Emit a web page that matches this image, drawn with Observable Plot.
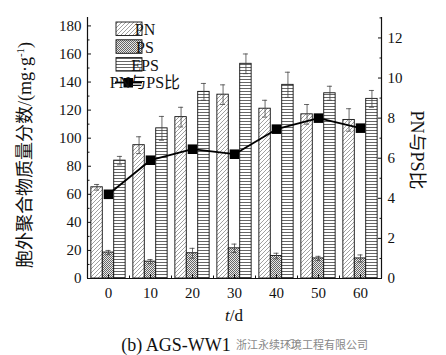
<!DOCTYPE html>
<html>
<head>
<meta charset="utf-8">
<script src="https://cdn.jsdelivr.net/npm/d3@7"></script>
<script src="https://cdn.jsdelivr.net/npm/@observablehq/plot@0.6"></script>
<style>
  html, body { margin: 0; padding: 0; background: #fff; }
  #chart { position: relative; width: 446px; height: 355px; }
  #chart svg text { font-family: "Liberation Serif", "Noto Sans CJK SC", serif; }
</style>
</head>
<body>
<div id="chart"></div>
<script>
// ---- data ----
const days = [0, 10, 20, 30, 40, 50, 60];
const pn = [65, 95, 115, 131, 121, 117, 113];
const pnErr = [2, 6, 7, 7, 6, 7, 8];
const ps = [18.5, 12, 18, 21.5, 16, 14.3, 14.3];
const psErr = [1.5, 1.5, 3.5, 3, 2, 1.5, 2.5];
const eps = [84, 107, 133, 153, 138, 132, 128];
const epsErr = [3, 8.5, 6, 7, 9, 5, 6];
const ratio = [4.2, 5.9, 6.45, 6.2, 7.45, 8.0, 7.5];
const leftTicks = [0, 20, 40, 60, 80, 100, 120, 140, 160, 180];
const rightTicks = [0, 2, 4, 6, 8, 10, 12];
const seriesNames = ["PN", "PS", "EPS"];
const ratioName = "PN与PS比";

const k = 0.07; // right axis value = left axis value * k
const bw = 2.72; // bar width in days
const rows = days.map((d, i) => ({day: d, pn: pn[i], pnErr: pnErr[i], ps: ps[i], psErr: psErr[i], eps: eps[i], epsErr: epsErr[i], ratio: ratio[i]}));

const serif = "'Liberation Serif', 'Noto Sans CJK SC', serif";

function barMarks(key, off, pat) {
  const errKey = key + "Err";
  const cx = d => d.day + off;
  return [
    Plot.rect(rows, {x1: d => cx(d) - bw / 2, x2: d => cx(d) + bw / 2, y1: 0, y2: key, fill: `url(#${pat})`, stroke: "#111", strokeWidth: 0.9}),
    Plot.ruleX(rows, {x: cx, y1: d => d[key] - d[errKey], y2: d => d[key] + d[errKey], stroke: "#444", strokeWidth: 0.8}),
    Plot.ruleY(rows, {y: d => d[key] + d[errKey], x1: d => cx(d) - 0.6, x2: d => cx(d) + 0.6, stroke: "#444", strokeWidth: 0.8}),
    Plot.ruleY(rows, {y: d => d[key] - d[errKey], x1: d => cx(d) - 0.6, x2: d => cx(d) + 0.6, stroke: "#444", strokeWidth: 0.8})
  ];
}

const blank = () => "";
const chart = Plot.plot({
  width: 446,
  height: 355,
  marginLeft: 87,
  marginRight: 65,
  marginTop: 17,
  marginBottom: 77,
  style: {fontFamily: serif, fontSize: "15px", color: "#111", background: "white"},
  x: {domain: [-5, 65], axis: null},
  y: {domain: [0, 186], axis: null},
  marks: [
    ...barMarks("pn", -bw, "pat-pn"),
    ...barMarks("ps", 0, "pat-ps"),
    ...barMarks("eps", bw, "pat-eps"),
    Plot.line(rows, {x: "day", y: d => d.ratio / k, stroke: "black", strokeWidth: 1.8}),
    Plot.dot(rows, {x: "day", y: d => d.ratio / k, symbol: "square", r: 5.4, fill: "black"}),
    // axis lines
    Plot.ruleX([-5, 65], {stroke: "#111", strokeWidth: 1.2}),
    Plot.ruleY([0], {stroke: "#111", strokeWidth: 1.2}),
    // left axis
    Plot.axisY(leftTicks, {anchor: "left", tickSize: 0, tickPadding: 6, label: null, fontSize: 15}),
    Plot.axisY(leftTicks, {anchor: "left", tickSize: -4, tickFormat: blank, label: null}),
    Plot.axisY(d3.range(10, 186, 20), {anchor: "left", tickSize: -2.5, tickFormat: blank, label: null}),
    // right axis
    Plot.axisY(rightTicks.map(v => v / k), {anchor: "right", tickSize: 0, tickPadding: 6, label: null, fontSize: 15, tickFormat: d => Math.round(d * k)}),
    Plot.axisY(rightTicks.map(v => v / k), {anchor: "right", tickSize: -4, tickFormat: blank, label: null}),
    Plot.axisY(d3.range(1, 13.1, 2).map(v => v / k), {anchor: "right", tickSize: -2.5, tickFormat: blank, label: null}),
    // x axis
    Plot.axisX(days, {tickSize: 0, tickPadding: 9, label: null, fontSize: 15}),
    Plot.axisX(days, {tickSize: -4, tickFormat: blank, label: null}),
    Plot.axisX(d3.range(5, 60, 10), {tickSize: -2.5, tickFormat: blank, label: null})
  ]
});

chart.insertAdjacentHTML("afterbegin", `
<defs>
  <pattern id="pat-pn" width="4" height="4" patternUnits="userSpaceOnUse">
    <rect width="4" height="4" fill="white"/>
    <path d="M-1,1 l2,-2 M0,4 l4,-4 M3,5 l2,-2" stroke="#888" stroke-width="0.8"/>
  </pattern>
  <pattern id="pat-ps" width="2" height="2" patternUnits="userSpaceOnUse">
    <rect width="2" height="2" fill="#e8e8e8"/>
    <rect width="1" height="1" fill="#666"/>
    <rect x="1" y="1" width="1" height="1" fill="#666"/>
  </pattern>
  <pattern id="pat-eps" width="4" height="3" patternUnits="userSpaceOnUse">
    <rect width="4" height="3" fill="white"/>
    <path d="M0,1.5 h4" stroke="#555" stroke-width="0.9"/>
  </pattern>
</defs>`);

const svg = d3.select(chart);
svg.style("font-family", serif);
// legend
const lg = svg.append("g").attr("font-size", 16).attr("fill", "#111");
const pats = ["pat-pn", "pat-ps", "pat-eps"];
seriesNames.forEach((name, i) => {
  const y = 22 + i * 17.8;
  lg.append("rect").attr("x", 116).attr("y", y).attr("width", 26).attr("height", 13.5)
    .attr("fill", `url(#${pats[i]})`).attr("stroke", "#111").attr("stroke-width", 0.9);
  lg.append("text").attr("x", 145).attr("y", y + 13).attr("fill", "#111").text(name);
});
lg.append("line").attr("x1", 115).attr("x2", 142).attr("y1", 82.5).attr("y2", 82.5).attr("stroke", "black").attr("stroke-width", 1.8);
lg.append("rect").attr("x", 123.5).attr("y", 78).attr("width", 9.5).attr("height", 9.5).attr("fill", "black");
lg.append("text").attr("x", 145).attr("y", 88).attr("fill", "#111").text(ratioName);

// axis titles
svg.append("text").attr("transform", "translate(27,155) rotate(-90)").attr("text-anchor", "middle")
  .attr("dominant-baseline", "middle").attr("font-size", 18).attr("fill", "#111")
  .html('胞外聚合物质量分数/(mg·g<tspan dy="-6" font-size="11">-1</tspan><tspan dy="6">)</tspan>');
svg.append("text").attr("transform", "translate(415,150) rotate(90)").attr("text-anchor", "middle")
  .attr("dominant-baseline", "middle").attr("font-size", 18).attr("fill", "#111")
  .text(ratioName);
svg.append("text").attr("x", 234).attr("y", 321).attr("text-anchor", "middle")
  .attr("font-size", 17).attr("fill", "#111").html('<tspan font-style="italic">t</tspan>/d');
svg.append("text").attr("x", 176).attr("y", 351)
  .attr("font-size", 18).attr("fill", "#111").text("(b) AGS-WW1");
svg.append("circle").attr("cx", 292).attr("cy", 344).attr("r", 4.5).attr("fill", "none").attr("stroke", "#999").attr("stroke-width", 1);
svg.append("text").attr("x", 302).attr("y", 349).style("font-family", "'Noto Sans CJK SC', sans-serif")
  .attr("font-size", 11).attr("fill", "#888").text("浙江永续环境工程有限公司");

document.getElementById("chart").appendChild(chart);
</script>
</body>
</html>
